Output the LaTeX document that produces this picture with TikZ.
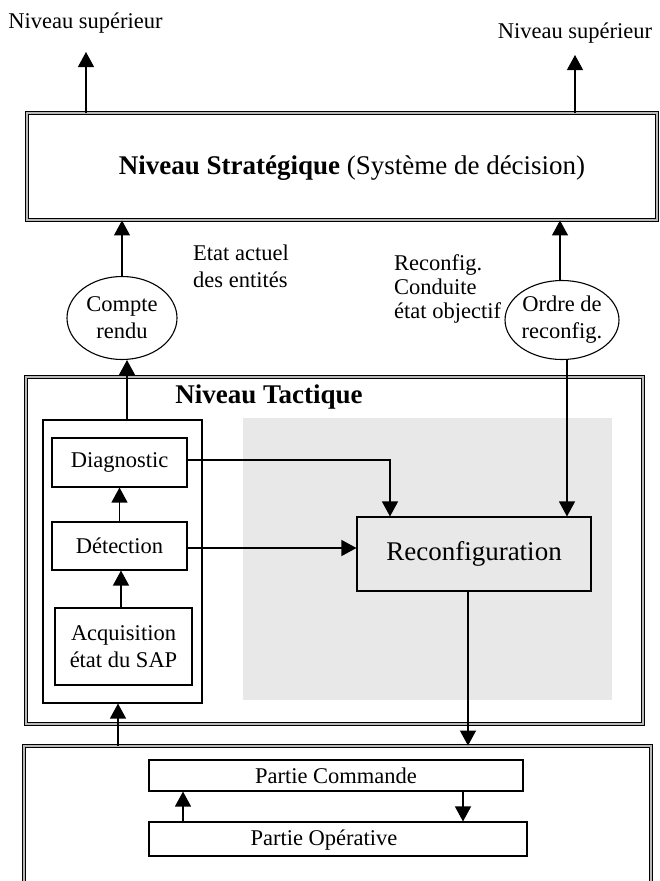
\documentclass[tikz,border=0pt]{standalone}
\usepackage{fontspec}
\setmainfont{Liberation Serif}
\usetikzlibrary{arrows.meta,shapes.geometric}
\definecolor{bggray}{HTML}{E8E8E8}
\begin{document}
\begin{tikzpicture}[x=1pt,y=-1pt,
  every node/.style={font=\fontsize{22.5}{27}\selectfont, inner sep=0pt},
  arr/.style={line width=1.2pt, -{Triangle[length=15pt,width=16pt]}},
  tribox/.style={draw=black, line width=0.9pt, double=gray!55, double distance=1.6pt},
  plainbox/.style={draw=black, line width=1.1pt, align=center},
  ell/.style={ellipse, draw=black, line width=1.1pt, align=center},
  bigtxt/.style={font=\fontsize{27}{32}\selectfont}]
\clip (0,0) rectangle (659,881);
\useasboundingbox (0,0) rectangle (659,881);
\fill[white] (0,0) rectangle (659,881);

% top texts
\node (top1) at (85.5,23) {Niveau supérieur};
\node (top2) at (575,33) {Niveau supérieur};
\coordinate (t1) at (86,52);
\coordinate (t2) at (575,55);

% strategic level
\node[tribox, minimum width=630, minimum height=107] (strat) at (342,166.5) {};
\node[bigtxt] (strattxt) at (352,168) {\textbf{Niveau Stratégique} (Système de décision)};
\draw[arr] (strat.north -| t1) -- (t1);
\draw[arr] (strat.north -| t2) -- (t2);

% ellipses
\node[ell, minimum width=110, minimum height=83] (compte) at (122,318) {Compte\\rendu};
\node[ell, minimum width=111, minimum height=79] (ordre) at (562,320) {Ordre de\\reconfig.};
\draw[arr] (compte.north) -- (compte.north |- strat.south);
\draw[arr] (ordre.north -| 560,0) -- (strat.south -| 560,0);

\node[anchor=west, align=left] (etat) at (193,266.5) {Etat actuel\\des entités};
\node[anchor=west, align=left, font=\fontsize{22.5}{24}\selectfont] (rcl) at (394,289) {Reconfig.\\Conduite\\état objectif};

% tactical level
\node[tribox, minimum width=617, minimum height=347] (tact) at (334.5,550.5) {};
\node[bigtxt] (tacttxt) at (269,397) {\textbf{Niveau Tactique}};
\node[fill=bggray, minimum width=369, minimum height=282] (grayarea) at (427.5,559) {};
\node[plainbox, minimum width=159, minimum height=283] (lefts) at (122.5,561.5) {};
\node[plainbox, minimum width=135, minimum height=49] (diag) at (119.5,462.5) {Diagnostic};
\node[plainbox, minimum width=135, minimum height=48] (detect) at (119.5,546) {Détection};
\node[plainbox, minimum width=137, minimum height=77] (acq) at (123.5,646.5) {Acquisition\\état du SAP};
\node[plainbox, fill=bggray, bigtxt, minimum width=234, minimum height=74] (reconf) at (474,554) {Reconfiguration};

\draw[arr] (acq.north -| 121,0) -- (detect.south -| 121,0);
\draw[arr] (detect.north) -- (diag.south);
\draw[arr] (lefts.north -| 127,0) -- (compte.south -| 127,0);
\draw[arr] (diag.east |- 0,460) -| (reconf.north -| 390,0);
\draw[arr] (detect.east |- 0,548) -- (reconf.west |- 0,548);
\draw[arr] (ordre.south -| 567,0) -- (reconf.north -| 567,0);

% operative level
\node[tribox, minimum width=627, minimum height=150] (bot) at (337.5,821) {};
\draw[arr] (reconf.south -| 468,0) -- (bot.north -| 468,0);
\draw[arr] (bot.north -| 118,0) -- (lefts.south -| 118,0);

\node[plainbox, minimum width=374, minimum height=31] (cmd) at (336,775.5) {Partie Commande};
\node[plainbox, minimum width=378, minimum height=34] (op) at (338,839) {};
\node (optxt) at (324,840) {Partie Opérative};
\draw[arr] (op.north -| 183,0) -- (cmd.south -| 183,0);
\draw[arr] (cmd.south -| 463,0) -- (op.north -| 463,0);
\end{tikzpicture}
\end{document}
